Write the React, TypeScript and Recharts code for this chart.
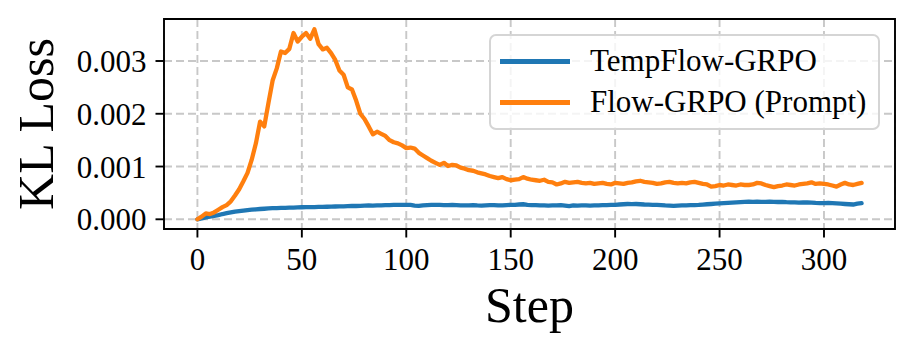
import React from 'react';
import {
  LineChart,
  Line,
  XAxis,
  YAxis,
  CartesianGrid,
  ReferenceArea,
} from 'recharts';

// Training step spacing of the sampled points
const STEP_STRIDE = 2;

// KL loss values in units of 1e-4, one every STEP_STRIDE steps (0 .. 318)
const tempFlowGRPO_e4 = [
  0, 0.15, 0.35, 0.5, 0.65, 0.8, 1.0, 1.15, 1.3, 1.45,
  1.55, 1.65, 1.75, 1.82, 1.88, 1.95, 2.0, 2.05, 2.1, 2.12,
  2.15, 2.17, 2.2, 2.22, 2.25, 2.28, 2.3, 2.3, 2.32, 2.35,
  2.35, 2.38, 2.4, 2.42, 2.45, 2.45, 2.5, 2.55, 2.52, 2.55,
  2.6, 2.62, 2.6, 2.65, 2.65, 2.68, 2.7, 2.72, 2.72, 2.75,
  2.75, 2.72, 2.6, 2.55, 2.65, 2.7, 2.72, 2.75, 2.72, 2.7,
  2.68, 2.72, 2.7, 2.65, 2.62, 2.65, 2.68, 2.62, 2.6, 2.65,
  2.7, 2.68, 2.62, 2.65, 2.7, 2.72, 2.75, 2.8, 2.85, 2.75,
  2.7, 2.68, 2.65, 2.62, 2.6, 2.62, 2.65, 2.7, 2.6, 2.5,
  2.62, 2.6, 2.62, 2.65, 2.6, 2.62, 2.65, 2.68, 2.7, 2.72,
  2.75, 2.8, 2.85, 2.9, 2.88, 2.9, 2.85, 2.8, 2.78, 2.75,
  2.72, 2.68, 2.62, 2.58, 2.55, 2.6, 2.62, 2.65, 2.68, 2.7,
  2.72, 2.78, 2.85, 2.9, 2.95, 3.0, 3.05, 3.1, 3.15, 3.2,
  3.25, 3.3, 3.35, 3.3, 3.35, 3.32, 3.3, 3.35, 3.3, 3.28,
  3.3, 3.25, 3.22, 3.2, 3.15, 3.18, 3.2, 3.15, 3.1, 3.08,
  3.05, 3.1, 3.05, 3.0, 2.95, 2.9, 2.85, 2.8, 2.95, 3.05,
];

const flowGRPOPrompt_e4 = [
  0, 0.5, 1.1, 1.0, 1.3, 1.8, 2.3, 2.7, 3.4, 4.5,
  5.7, 7.2, 8.8, 11.3, 14.4, 18.5, 17.6, 22.0, 26.3, 28.6,
  31.8, 31.5, 32.3, 35.3, 33.7, 34.6, 35.3, 34.2, 36.0, 33.2,
  32.2, 32.5, 31.5, 30.2, 28.2, 27.4, 25.0, 24.6, 22.5, 20.0,
  19.0, 17.6, 16.1, 16.6, 16.2, 15.8, 15.0, 14.6, 14.4, 14.0,
  13.5, 13.6, 13.4, 12.6, 12.1, 11.6, 11.1, 10.7, 10.3, 10.7,
  10.1, 10.3, 10.2, 9.8, 9.6, 9.3, 9.2, 8.9, 8.7, 8.5,
  8.2, 8.0, 7.8, 8.0, 7.6, 7.4, 7.5, 7.6, 8.0, 7.7,
  7.5, 7.4, 7.3, 7.5, 7.1, 7.0, 6.6, 6.8, 7.1, 6.9,
  7.0, 7.1, 6.9, 6.8, 6.9, 6.7, 6.8, 6.9, 6.7, 6.6,
  6.9, 6.8, 6.7, 6.9, 7.0, 7.2, 7.3, 7.1, 7.0, 6.9,
  6.7, 6.8, 7.0, 7.1, 6.9, 6.8, 6.9, 6.8, 7.0, 7.1,
  6.9, 6.7, 6.6, 6.2, 6.3, 6.5, 6.4, 6.6, 6.5, 6.4,
  6.6, 6.5, 6.5, 6.6, 6.9, 6.8, 6.5, 6.3, 6.1, 6.3,
  6.4, 6.6, 6.5, 6.4, 6.6, 6.7, 6.8, 7.0, 6.7, 6.8,
  6.7, 6.6, 6.4, 6.2, 6.6, 6.9, 6.6, 6.5, 6.7, 6.9,
];

const seriesNames = ['TempFlow-GRPO', 'Flow-GRPO (Prompt)'];
const seriesColors = ['#1f77b4', '#ff7f0e'];

const xTicks = [0, 50, 100, 150, 200, 250, 300];
const yTicks = [0, 0.001, 0.002, 0.003];
const xDomain: [number, number] = [-16, 334];
const yDomain: [number, number] = [-0.000184, 0.003796];

const data = tempFlowGRPO_e4.map((v, i) => ({
  step: i * STEP_STRIDE,
  tempflow: v * 1e-4,
  flowgrpo: flowGRPOPrompt_e4[i] * 1e-4,
}));

const FONT = '"Liberation Serif", "Times New Roman", "DejaVu Serif", serif';

const XLabel = (props: any) => {
  const vb = props.viewBox || {};
  return (
    <text
      x={vb.x + vb.width / 2}
      y={vb.y + 93}
      textAnchor="middle"
      fontFamily={FONT}
      fontSize={50}
      fill="#000"
    >
      Step
    </text>
  );
};

const YLabel = (props: any) => {
  const vb = props.viewBox || {};
  const x = vb.x + 53;
  const y = vb.y + vb.height / 2;
  return (
    <text
      x={x}
      y={y}
      transform={`rotate(-90, ${x}, ${y})`}
      textAnchor="middle"
      fontFamily={FONT}
      fontSize={50}
      fill="#000"
    >
      KL Loss
    </text>
  );
};

const LegendBox = () => (
  <div
    style={{
      position: 'absolute',
      left: 489,
      top: 34,
      width: 391,
      height: 96,
      boxSizing: 'border-box',
      border: '2px solid #d5d5d5',
      borderRadius: 7,
      background: 'rgba(255,255,255,0.8)',
      fontFamily: FONT,
      fontSize: 31,
      color: '#000',
    }}
  >
    {seriesNames.map((name, i) => (
      <div
        key={name}
        style={{
          position: 'absolute',
          left: 0,
          top: (i === 0 ? 25 : 66) - 20,
          height: 40,
          lineHeight: '40px',
          whiteSpace: 'nowrap',
        }}
      >
        <div
          style={{
            position: 'absolute',
            left: 9,
            top: 18,
            width: 70,
            height: 4.5,
            background: seriesColors[i],
          }}
        />
        <span style={{ position: 'absolute', left: 99, top: 0 }}>{name}</span>
      </div>
    ))}
  </div>
);

export default function App() {
  return (
    <div
      style={{
        position: 'absolute',
        left: 0,
        top: 0,
        width: 914,
        height: 352,
        background: '#fff',
      }}
    >
      <LineChart
        width={914}
        height={352}
        data={data}
        margin={{ top: 19, right: 19, bottom: 0, left: 0 }}
      >
        <CartesianGrid
          stroke="#c8c8c8"
          strokeWidth={1.9}
          strokeDasharray="8 4"
        />
        <XAxis
          dataKey="step"
          type="number"
          domain={xDomain}
          ticks={xTicks}
          allowDataOverflow
          height={123}
          axisLine={false}
          tickLine={{ stroke: '#000', strokeWidth: 1.9 }}
          tickSize={8.5}
          tickMargin={10}
          tick={{ fill: '#000', fontFamily: FONT, fontSize: 31 }}
          label={<XLabel />}
        />
        <YAxis
          type="number"
          domain={yDomain}
          ticks={yTicks}
          allowDataOverflow
          width={164}
          axisLine={false}
          tickLine={{ stroke: '#000', strokeWidth: 1.9 }}
          tickSize={8.5}
          tickMargin={9}
          tickFormatter={(v: number) => v.toFixed(3)}
          tick={{ fill: '#000', fontFamily: FONT, fontSize: 31 }}
          label={<YLabel />}
        />
        <Line
          type="linear"
          dataKey="tempflow"
          name={seriesNames[0]}
          stroke={seriesColors[0]}
          strokeWidth={4.3}
          dot={false}
          strokeLinejoin="round"
          strokeLinecap="round"
          isAnimationActive={false}
        />
        <Line
          type="linear"
          dataKey="flowgrpo"
          name={seriesNames[1]}
          stroke={seriesColors[1]}
          strokeWidth={4.3}
          dot={false}
          strokeLinejoin="round"
          strokeLinecap="round"
          isAnimationActive={false}
        />
        <ReferenceArea
          x1={xDomain[0]}
          x2={xDomain[1]}
          y1={yDomain[0]}
          y2={yDomain[1]}
          stroke="#000"
          strokeWidth={1.9}
          fill="none"
          fillOpacity={0}
          ifOverflow="visible"
        />
      </LineChart>
      <LegendBox />
    </div>
  );
}
